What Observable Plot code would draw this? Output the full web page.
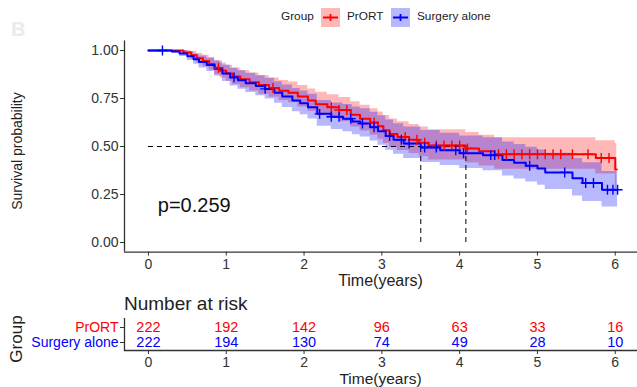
<!DOCTYPE html>
<html><head><meta charset="utf-8">
<script src="https://cdn.jsdelivr.net/npm/d3@7"></script>
<script src="https://cdn.jsdelivr.net/npm/@observablehq/plot@0.6"></script>
<style>
body{margin:0;background:#fff;font-family:"Liberation Sans",Arial,sans-serif;}
#wrap{position:relative;width:637px;height:387px;overflow:hidden;background:#fff;}
.abs{position:absolute;white-space:nowrap;line-height:1;color:#222;}
svg{overflow:visible;}
</style></head><body><div id="wrap"></div>
<script>
// ---------- data ----------
const groups = ["PrORT", "Surgery alone"];
const groupColors = ["#FF0000", "#0000FF"];

// PrORT Kaplan-Meier steps (time, survival, lower CI, upper CI)
const prortTime  = [0, 0.45, 0.55, 0.62, 0.70, 0.78, 0.85, 0.92, 1.00, 1.08, 1.18, 1.30, 1.42, 1.55, 1.68, 1.80, 1.92, 2.05, 2.15, 2.30, 2.45, 2.60, 2.72, 2.85, 2.95, 3.02, 3.10, 3.20, 3.35, 3.48, 3.60, 4.08, 4.25, 4.45, 5.75, 6.00];
const prortSurv  = [1.00, 0.99, 0.975, 0.96, 0.945, 0.93, 0.91, 0.895, 0.88, 0.865, 0.85, 0.835, 0.82, 0.805, 0.79, 0.78, 0.76, 0.74, 0.72, 0.705, 0.69, 0.665, 0.645, 0.625, 0.605, 0.585, 0.565, 0.55, 0.535, 0.52, 0.505, 0.49, 0.475, 0.46, 0.44, 0.38];
const prortLower = [1.00, 0.977, 0.955, 0.935, 0.915, 0.897, 0.874, 0.857, 0.84, 0.823, 0.806, 0.789, 0.772, 0.756, 0.739, 0.728, 0.706, 0.684, 0.662, 0.646, 0.629, 0.602, 0.581, 0.559, 0.538, 0.516, 0.495, 0.479, 0.463, 0.446, 0.43, 0.414, 0.398, 0.382, 0.357, 0.28];
const prortUpper = [1.00, 1.00, 0.995, 0.985, 0.975, 0.963, 0.948, 0.935, 0.922, 0.909, 0.896, 0.883, 0.87, 0.857, 0.844, 0.836, 0.818, 0.80, 0.782, 0.769, 0.755, 0.733, 0.715, 0.697, 0.68, 0.661, 0.643, 0.629, 0.615, 0.601, 0.587, 0.573, 0.559, 0.546, 0.53, 0.515];
const prortEnd = 6.02;
const prortCensor = [0.9, 1.6, 2.35, 2.45, 2.55, 2.9, 3.3, 3.45, 3.55, 3.7, 3.8, 3.9, 4.0, 4.1, 4.5, 4.6, 4.7, 4.8, 4.9, 5.0, 5.1, 5.2, 5.3, 5.45, 5.65, 5.82, 5.92];

// Surgery alone Kaplan-Meier steps
const surgTime  = [0, 0.30, 0.40, 0.50, 0.58, 0.65, 0.75, 0.85, 0.95, 1.05, 1.15, 1.25, 1.38, 1.50, 1.62, 1.72, 1.85, 1.95, 2.05, 2.17, 2.35, 2.50, 2.62, 2.72, 2.85, 2.95, 3.05, 3.15, 3.28, 3.50, 3.75, 4.00, 4.30, 4.55, 4.70, 4.85, 5.00, 5.10, 5.45, 5.58, 5.83];
const surgSurv  = [1.00, 0.995, 0.985, 0.97, 0.955, 0.94, 0.925, 0.905, 0.88, 0.86, 0.845, 0.83, 0.815, 0.80, 0.78, 0.76, 0.74, 0.725, 0.705, 0.67, 0.655, 0.645, 0.63, 0.62, 0.60, 0.58, 0.555, 0.535, 0.515, 0.495, 0.48, 0.465, 0.455, 0.43, 0.415, 0.40, 0.385, 0.365, 0.335, 0.31, 0.275];
const surgLower = [1.00, 0.986, 0.969, 0.948, 0.929, 0.909, 0.891, 0.867, 0.838, 0.815, 0.798, 0.781, 0.764, 0.748, 0.725, 0.703, 0.681, 0.665, 0.643, 0.605, 0.588, 0.577, 0.561, 0.55, 0.528, 0.507, 0.481, 0.459, 0.438, 0.417, 0.401, 0.385, 0.374, 0.347, 0.331, 0.315, 0.298, 0.276, 0.242, 0.214, 0.185];
const surgUpper = [1.00, 1.00, 1.00, 0.992, 0.982, 0.972, 0.96, 0.945, 0.924, 0.907, 0.894, 0.881, 0.868, 0.855, 0.837, 0.82, 0.802, 0.789, 0.772, 0.74, 0.727, 0.719, 0.706, 0.697, 0.679, 0.66, 0.638, 0.619, 0.601, 0.583, 0.569, 0.555, 0.546, 0.524, 0.51, 0.496, 0.482, 0.465, 0.438, 0.416, 0.37];
const surgEnd = 6.03;
const surgCensor = [0.18, 1.1, 1.5, 2.2, 2.35, 2.45, 2.6, 2.75, 2.9, 3.1, 3.25, 3.35, 3.55, 3.7, 3.95, 4.05, 4.4, 4.45, 4.9, 5.35, 5.62, 5.72, 5.9, 5.97, 6.03];

const medians = [3.5, 4.08];
const pValueText = "p=0.259";

const xTicks = [0, 1, 2, 3, 4, 5, 6];
const yTicks = [0, 0.25, 0.5, 0.75, 1];
const riskTimes = [0, 1, 2, 3, 4, 5, 6];
const riskPrORT = [222, 192, 142, 96, 63, 33, 16];
const riskSurgery = [222, 194, 130, 74, 49, 28, 10];

// ---------- build ----------
const FONT = '"Liberation Sans", Arial, sans-serif';
const X_DOMAIN = [-0.308, 6.286];
const AXIS = "#333";

function stepRows(T, S, L, H, end) {
  const rows = T.map((t, i) => ({t, s: S[i], lo: L[i], hi: H[i]}));
  rows.push({t: end, s: S[S.length - 1], lo: L[L.length - 1], hi: H[H.length - 1]});
  return rows;
}
function survAt(T, S, t) { const i = d3.bisectRight(T, t) - 1; return S[Math.max(0, i)]; }

const series = [
  {rows: stepRows(prortTime, prortSurv, prortLower, prortUpper, prortEnd), censor: prortCensor.map(t => ({t, s: survAt(prortTime, prortSurv, t)})), color: groupColors[0]},
  {rows: stepRows(surgTime, surgSurv, surgLower, surgUpper, surgEnd), censor: surgCensor.map(t => ({t, s: survAt(surgTime, surgSurv, t)})), color: groupColors[1]}
];

const wrap = document.getElementById("wrap");

const main = Plot.plot({
  width: 637, height: 290,
  marginLeft: 124, marginRight: 0, marginTop: 40.4, marginBottom: 38.4,
  x: {domain: X_DOMAIN},
  y: {domain: [-0.05, 1.05]},
  style: {fontFamily: FONT, background: "transparent", color: AXIS},
  marks: [
    ...series.map(g => Plot.areaY(g.rows, {x: "t", y1: "lo", y2: "hi", curve: "step-after", fill: g.color, fillOpacity: 0.28})),
    Plot.ruleY([0.5], {x1: 0, x2: d3.max(medians), stroke: "#000", strokeWidth: 1, strokeDasharray: "5,4"}),
    Plot.ruleX(medians, {y1: 0, y2: 0.5, stroke: "#000", strokeWidth: 1, strokeDasharray: "5,4"}),
    ...series.map(g => Plot.line(g.rows, {x: "t", y: "s", curve: "step-after", stroke: g.color, strokeWidth: 2})),
    ...series.map(g => Plot.dot(g.censor, {x: "t", y: "s", symbol: "plus", r: 3.3, stroke: g.color, strokeWidth: 1.4})),
    Plot.axisY({ticks: yTicks, tickFormat: d3.format(".2f"), tickSize: 4, tickPadding: 2, fontSize: 14, label: null}),
    Plot.axisX({ticks: xTicks, tickFormat: d3.format("d"), tickSize: 4, tickPadding: 3, fontSize: 14, label: null}),
    Plot.ruleX([X_DOMAIN[0]], {stroke: AXIS, strokeWidth: 1.3}),
    Plot.ruleY([-0.05], {stroke: AXIS, strokeWidth: 1.3}),
    Plot.text([pValueText], {x: 0.12, y: 0.19, text: d => d, textAnchor: "start", fontSize: 20, fill: "#111"})
  ]
});
main.style.position = "absolute"; main.style.left = "0px"; main.style.top = "0px";
wrap.appendChild(main);

const riskByGroup = [riskPrORT, riskSurgery];
const table = Plot.plot({
  width: 637, height: 97,
  marginLeft: 124, marginRight: 0, marginTop: 28, marginBottom: 37,
  x: {domain: X_DOMAIN},
  y: {type: "point", domain: groups, padding: 0.55},
  style: {fontFamily: FONT, background: "transparent", color: AXIS},
  marks: [
    ...groups.map((g, i) => Plot.text(riskTimes, {x: d => d, y: () => g, text: (d, j) => String(riskByGroup[i][j]), fill: groupColors[i], fontSize: 14.5})),
    Plot.axisY({tickSize: 4, tickFormat: () => "", label: null}),
    ...groups.map((g, i) => Plot.text([g], {y: d => d, frameAnchor: "left", dx: -6, textAnchor: "end", fill: groupColors[i], fontSize: 14})),
    Plot.axisX({ticks: xTicks, tickFormat: d3.format("d"), tickSize: 4, tickPadding: 3, fontSize: 14, label: null}),
    Plot.ruleX([X_DOMAIN[0]], {stroke: AXIS, strokeWidth: 1.3}),
    Plot.frame({anchor: "bottom", stroke: AXIS, strokeWidth: 1.3})
  ]
});
table.style.position = "absolute"; table.style.left = "0px"; table.style.top = "290px";
wrap.appendChild(table);

function addText(txt, opts) {
  const d = document.createElement("div");
  d.className = "abs";
  d.textContent = txt;
  Object.assign(d.style, opts);
  wrap.appendChild(d);
  return d;
}
// panel letter
addText("B", {left: "11px", top: "19px", fontSize: "20px", fontWeight: "bold", color: "#ebebeb"});
// axis titles
addText("Survival probability", {left: "17px", top: "151px", fontSize: "14px", transform: "translate(-50%,-50%) rotate(-90deg)"});
addText("Time(years)", {left: "380.5px", top: "281px", fontSize: "16px", transform: "translate(-50%,-50%)"});
addText("Number at risk", {left: "124px", top: "303px", fontSize: "19px", transform: "translate(0,-50%)"});
addText("Group", {left: "16px", top: "339px", fontSize: "17px", transform: "translate(-50%,-50%) rotate(-90deg)"});
addText("Time(years)", {left: "380.5px", top: "378.5px", fontSize: "15.5px", transform: "translate(-50%,-50%)"});

// legend
addText("Group", {left: "281px", top: "17px", fontSize: "11.8px", transform: "translate(0,-50%)"});
const keyX = [321, 391];
const labX = [347, 417];
groups.forEach((g, i) => {
  const ns = "http://www.w3.org/2000/svg";
  const s = document.createElementNS(ns, "svg");
  s.setAttribute("width", 19); s.setAttribute("height", 19);
  s.style.position = "absolute"; s.style.left = keyX[i] + "px"; s.style.top = "7.5px";
  const r = document.createElementNS(ns, "rect");
  r.setAttribute("width", 19); r.setAttribute("height", 19);
  r.setAttribute("fill", groupColors[i]); r.setAttribute("fill-opacity", 0.28);
  s.appendChild(r);
  const l = document.createElementNS(ns, "path");
  l.setAttribute("d", "M2,9.5H17M9.5,6V13");
  l.setAttribute("stroke", groupColors[i]); l.setAttribute("stroke-width", 1.8); l.setAttribute("fill", "none");
  s.appendChild(l);
  wrap.appendChild(s);
  addText(g, {left: labX[i] + "px", top: "17px", fontSize: "11.8px", transform: "translate(0,-50%)"});
});
</script></body></html>
